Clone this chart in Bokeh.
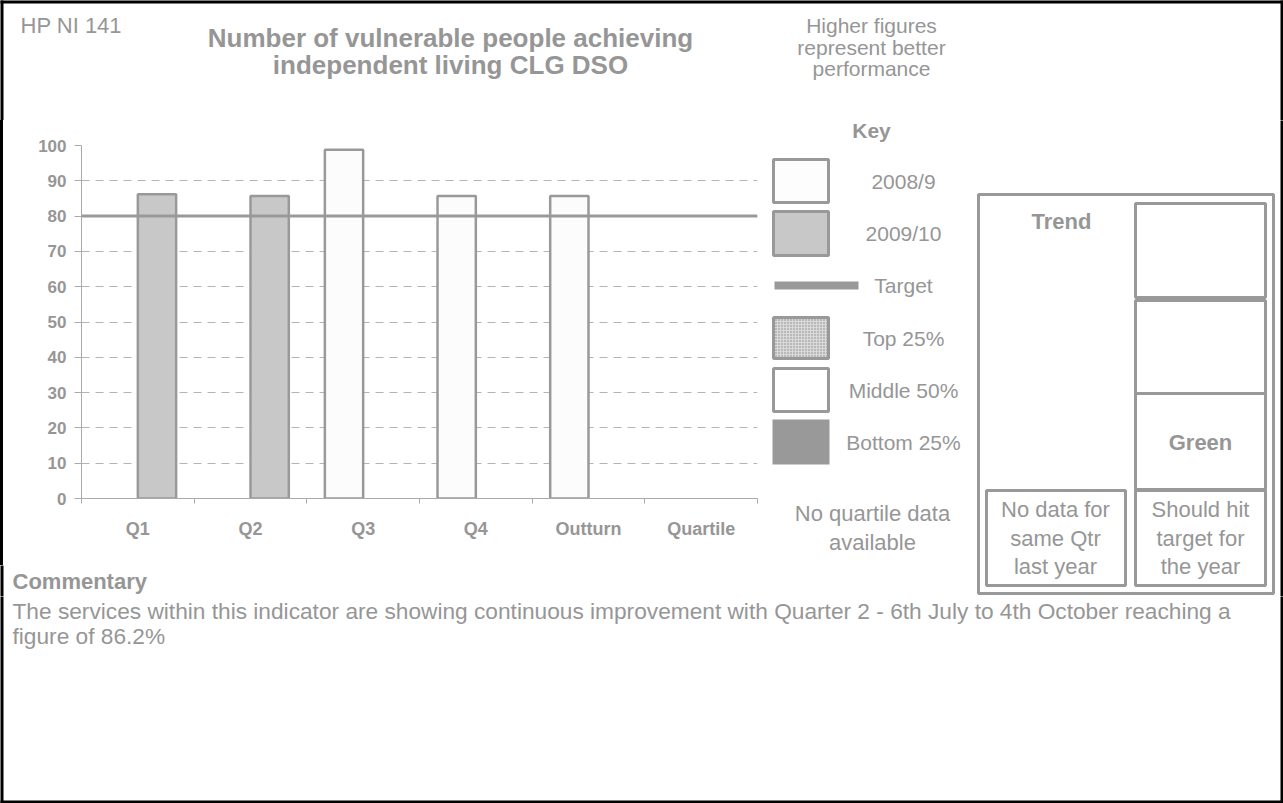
from bokeh.plotting import figure
from bokeh.layouts import column, row
from bokeh.models import (Range1d, LinearAxis, FixedTicker, Span, Label, BoxAnnotation,
                          ColumnDataSource, Grid, Div)
from bokeh.embed import file_html
from bokeh.resources import INLINE

# ---------------- data ----------------
categories = ["Q1", "Q2", "Q3", "Q4", "Outturn", "Quartile"]
values_2008_9 = [None, None, 98.8, 85.7, 85.7, None]
values_2009_10 = [86.2, 85.7, None, None, None, None]
target_value = 80
y_ticks = [0, 10, 20, 30, 40, 50, 60, 70, 80, 90, 100]

indicator_code = "HP NI 141"
title_lines = ["Number of vulnerable people achieving", "independent living CLG DSO"]
direction_lines = ["Higher figures", "represent better", "performance"]
key_title = "Key"
key_labels = ["2008/9", "2009/10", "Target", "Top 25%", "Middle 50%", "Bottom 25%"]
quartile_note = ["No quartile data", "available"]
trend_title = "Trend"
trend_status = "Green"
trend_left = ["No data for", "same Qtr", "last year"]
trend_right = ["Should hit", "target for", "the year"]
commentary_title = "Commentary"
commentary_lines = [
    "The services within this indicator are showing continuous improvement with Quarter 2 - 6th July to 4th October reaching a",
    "figure of 86.2%",
]

# ---------------- page geometry (page pixels) ----------------
PW, PH = 1283, 803
TOP_H = 120           # header strip
MID_B = 596           # bottom of middle row
CHART_B = 565         # bottom of chart figure
SPLIT_X = 765         # chart | key+trend
BW = 3                # page border width
FX0, FX1 = 81, 757    # chart frame
FY0, FY1 = 145, 498
GRAY = "#969696"
LINE = "#999999"
FONT = "Liberation Sans"
BAR_W = 0.34


def panel(x0, x1, y0, y1):
    """Figure whose frame fills its canvas; data coords == page pixels."""
    f = figure(width=x1 - x0, height=y1 - y0, x_range=Range1d(x0, x1), y_range=Range1d(y1, y0),
               output_backend="svg", toolbar_location=None,
               x_axis_location=None, y_axis_location=None, min_border=0)
    f.outline_line_color = None
    f.background_fill_color = "white"
    f.border_fill_color = "white"
    for g in f.grid:
        g.visible = False
    return f


def lbl(f, x, y, text, size, bold=False, align="center"):
    f.add_layout(Label(x=x, y=y, text=text, text_font=FONT, text_font_size=f"{size}px",
                       text_font_style="bold" if bold else "normal",
                       text_color=GRAY, text_align=align, text_baseline="middle"))


def box(f, l, r, t, b, fill=None, line=LINE, lw=3, hatch=None):
    kw = dict(left=l, right=r, top=t, bottom=b,
              fill_color=fill if fill else "white", fill_alpha=1.0 if fill else 0.0,
              line_color=line if line else "white", line_alpha=1.0 if line else 0.0,
              line_width=lw)
    if hatch:
        kw.update(hatch_pattern=hatch, hatch_color="#8a8a8a", hatch_scale=3, hatch_alpha=1.0)
    f.add_layout(BoxAnnotation(**kw))


def border(f, l, r, t, b):
    box(f, l, r, t, b, fill="black", line=None, lw=0)


# ---------------- header ----------------
top = panel(0, PW, 0, TOP_H)
border(top, -5, PW + 5, -5, BW)
border(top, -5, BW, -5, TOP_H + 5)
border(top, PW - BW, PW + 5, -5, TOP_H + 5)
lbl(top, 20, 25, indicator_code, 22, align="left")
lbl(top, 450, 37, title_lines[0], 26, bold=True)
lbl(top, 450, 64, title_lines[1], 26, bold=True)
for i, t in enumerate(direction_lines):
    lbl(top, 871, 25 + 21.5 * i, t, 21)

# ---------------- chart ----------------
n = len(categories)
centers = [i + 0.5 for i in range(n)]
cw = SPLIT_X - BW
ch = CHART_B - TOP_H
p = figure(width=cw, height=ch, x_range=Range1d(0, n), y_range=Range1d(0, 100),
           output_backend="svg", toolbar_location=None,
           x_axis_location=None, y_axis_location=None,
           min_border_left=FX0 - BW, min_border_right=SPLIT_X - FX1,
           min_border_top=FY0 - TOP_H, min_border_bottom=CHART_B - FY1)
p.outline_line_color = None
p.background_fill_color = "white"
p.border_fill_color = "white"
for g in p.grid:
    g.visible = False

p.add_layout(Grid(dimension=1, ticker=FixedTicker(ticks=y_ticks, minor_ticks=[]),
                  grid_line_color="#b4b4b4", grid_line_dash="8 6", grid_line_width=1))

yax = LinearAxis(ticker=FixedTicker(ticks=y_ticks, minor_ticks=[]),
                 axis_line_color="#aaaaaa", major_tick_line_color="#aaaaaa",
                 major_tick_out=7, major_tick_in=0, minor_tick_line_color=None,
                 major_label_standoff=8, major_label_text_font=FONT,
                 major_label_text_font_size="17px", major_label_text_font_style="bold",
                 major_label_text_color=GRAY)
p.add_layout(yax, "left")

tick_ax = LinearAxis(ticker=FixedTicker(ticks=list(range(n + 1)), minor_ticks=[]),
                     axis_line_color="#aaaaaa", major_tick_line_color="#aaaaaa",
                     major_tick_out=5, major_tick_in=0, minor_tick_line_color=None,
                     major_label_overrides={i: "" for i in range(n + 1)},
                     major_label_text_font_size="1px", major_label_standoff=0)
p.add_layout(tick_ax, "below")
cat_ax = LinearAxis(ticker=FixedTicker(ticks=centers, minor_ticks=[]),
                    major_label_overrides={c: name for c, name in zip(centers, categories)},
                    axis_line_color=None, major_tick_line_color=None, minor_tick_line_color=None,
                    major_label_standoff=9, major_label_text_font=FONT,
                    major_label_text_font_size="18px", major_label_text_font_style="bold",
                    major_label_text_color=GRAY)
p.add_layout(cat_ax, "below")

src_a = ColumnDataSource(dict(x=[c - BAR_W / 2 for c, v in zip(centers, values_2008_9) if v is not None],
                              val=[v for v in values_2008_9 if v is not None]))
src_b = ColumnDataSource(dict(x=[c + BAR_W / 2 for c, v in zip(centers, values_2009_10) if v is not None],
                              val=[v for v in values_2009_10 if v is not None]))
p.vbar(x="x", top="val", width=BAR_W, source=src_a,
       fill_color="#fcfcfc", line_color=LINE, line_width=2.5)
p.vbar(x="x", top="val", width=BAR_W, source=src_b,
       fill_color="#c8c8c8", line_color=LINE, line_width=2.5)
p.add_layout(Span(location=target_value, dimension="width", line_color=LINE, line_width=3))

strip = Div(text="", width=BW, height=ch, margin=0,
            styles={"background-color": "black", "padding": "0px"})

# ---------------- commentary title strip ----------------
ctitle = panel(0, SPLIT_X, CHART_B, MID_B)
border(ctitle, -5, BW, CHART_B - 5, MID_B + 5)
lbl(ctitle, 12, 581, commentary_title, 22, bold=True, align="left")

# ---------------- key + trend ----------------
rp = panel(SPLIT_X, PW, TOP_H, MID_B)
border(rp, PW - BW, PW + 5, TOP_H - 5, MID_B + 5)
lbl(rp, 871, 130, key_title, 21, bold=True)
key_y = [180.5, 233, 285, 337.5, 389.5, 441.5]
box(rp, 773, 828, 159, 202, fill="#fdfdfd")
box(rp, 773, 828, 211, 255, fill="#c8c8c8")
box(rp, 774, 858, 281, 289, fill=LINE, line=None, lw=0)
box(rp, 773, 828, 317, 358, fill="#d9d9d9", hatch="dot")
box(rp, 773, 828, 368, 411, fill="white")
box(rp, 772, 829, 419, 464, fill=LINE, line=None, lw=0)
for t, y in zip(key_labels, key_y):
    lbl(rp, 903, y, t, 21)
lbl(rp, 872, 513, quartile_note[0], 22)
lbl(rp, 872, 542, quartile_note[1], 22)

box(rp, 978, 1273, 194, 593, lw=3)
box(rp, 1135, 1265, 203, 297)
box(rp, 1135, 1265, 300, 393)
box(rp, 1135, 1265, 393, 489)
box(rp, 1135, 1265, 490, 585)
box(rp, 986, 1125, 490, 585)
lbl(rp, 1061, 221, trend_title, 22, bold=True)
lbl(rp, 1200, 442, trend_status, 22, bold=True)
for i, t in enumerate(trend_left):
    lbl(rp, 1055, 509 + 28.5 * i, t, 22)
for i, t in enumerate(trend_right):
    lbl(rp, 1200, 509 + 28.5 * i, t, 22)

# ---------------- commentary body ----------------
bot = panel(0, PW, MID_B, PH)
border(bot, -5, BW, MID_B - 5, PH + 5)
border(bot, PW - BW, PW + 5, MID_B - 5, PH + 5)
border(bot, -5, PW + 5, PH - BW, PH + 5)
for i, t in enumerate(commentary_lines):
    lbl(bot, 12, 610 + 25.5 * i, t, 22.7, align="left")

layout = column(top, row(column(row(strip, p), ctitle), rp), bot)
open("out.html", "w").write(file_html(layout, INLINE))
